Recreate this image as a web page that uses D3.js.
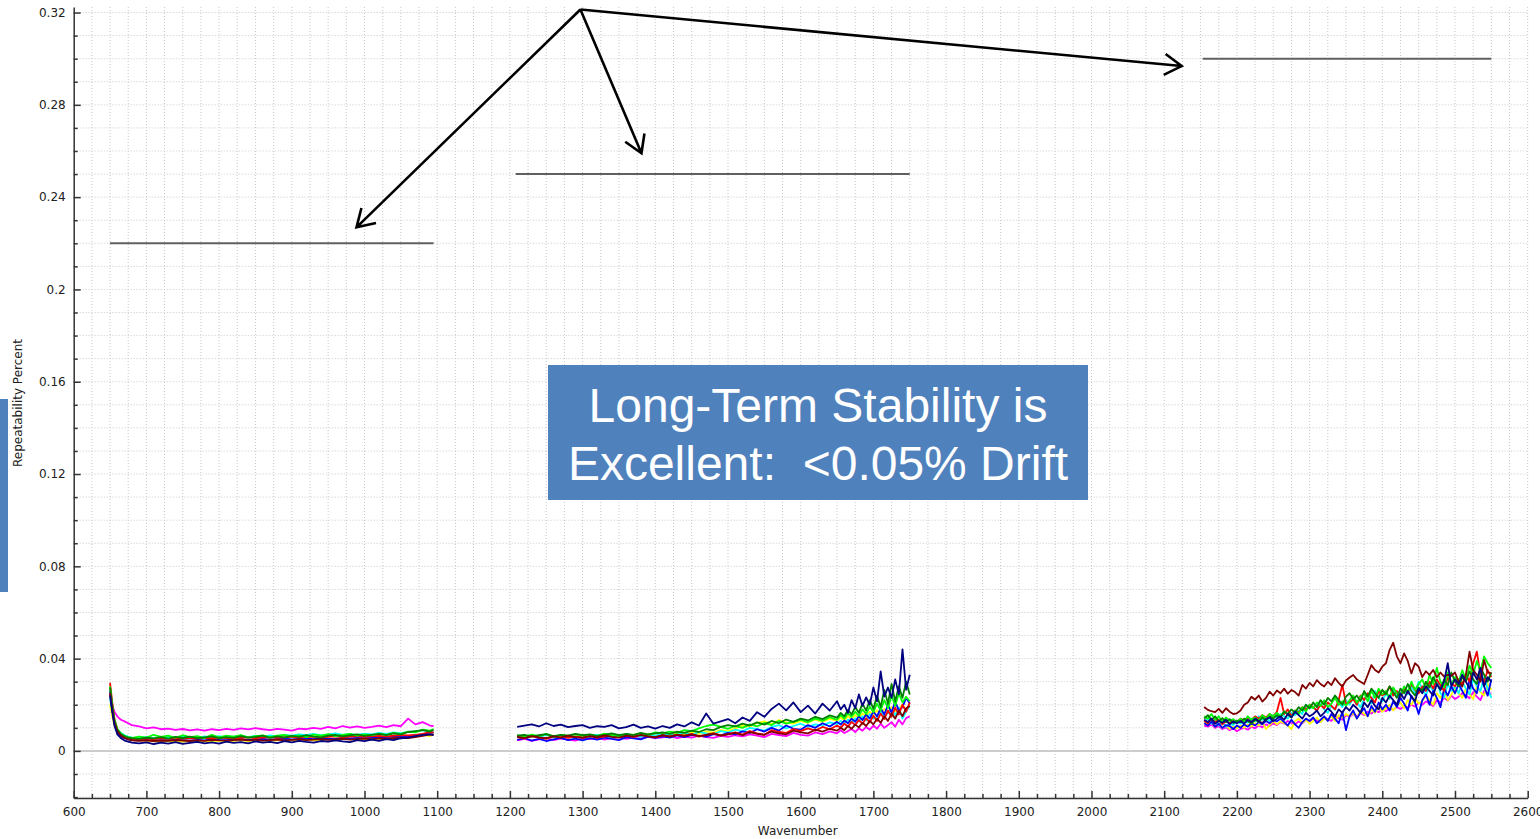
<!DOCTYPE html>
<html lang="en">
<head>
<meta charset="UTF-8">
<title>Repeatability Percent</title>
<script src="https://d3js.org/d3.v7.min.js"></script>
<style>
  body { margin: 0; background: #fff; }
  .axis path, .axis line { stroke: #333; stroke-width: 1.5; }
  .axis text { font-family: "DejaVu Sans", sans-serif; font-size: 12px; fill: #222; }
  .grid line { stroke: #c8c8c8; stroke-dasharray: 1,2; }
  .trace { fill: none; stroke-width: 1.8; stroke-linejoin: round; }
  .title { font-family: "DejaVu Sans", sans-serif; font-size: 12px; fill: #222; }
</style>
</head>
<body>
<script>
// tick labels
var xTicks = [600,700,800,900,1000,1100,1200,1300,1400,1500,1600,1700,1800,1900,2000,2100,2200,2300,2400,2500,2600];
var yTicks = [0,0.04,0.08,0.12,0.16,0.2,0.24,0.28,0.32];
var yTickLabels = ["0","0.04","0.08","0.12","0.16","0.2","0.24","0.28","0.32"];

// series colours, in drawing order
var seriesColors = ["#ff00ff","#ffff00","#00ffff","#0000ff","#ff0000","#00ff00","#008000","#800000","#000080"];

// values are in units of 1e-4 (repeatability percent)
// region 1: 650 - 1095
var region1X = [650,653,656,660,665,670,675,680,690,700,710,720,730,740,750,760,770,780,790,800,810,820,830,840,850,860,870,880,890,900,910,920,930,940,950,960,970,980,990,1000,1010,1020,1030,1040,1050,1060,1070,1080,1090,1095];
var region1Magenta = [245,200,170,150,135,128,120,112,106,98,102,94,97,91,95,89,93,88,94,90,96,91,98,93,99,94,90,96,92,88,97,94,100,96,104,98,108,101,106,100,104,110,103,112,107,140,115,125,110,108];
var region1Yellow = [200,150,110,85,70,60,55,50,46,44,42,40,43,41,40,42,44,41,43,45,42,44,46,43,45,47,44,46,48,45,47,49,46,48,50,48,52,50,53,51,55,52,54,57,56,58,62,70,64,72];
var region1Cyan = [230,175,130,95,78,68,62,58,55,60,57,54,61,56,62,58,55,63,59,64,58,62,66,60,65,61,67,63,70,66,72,68,74,67,71,76,70,73,69,75,72,78,74,80,77,83,85,90,86,88];
var region1Blue = [260,180,120,80,62,55,50,47,46,48,45,47,46,49,47,45,48,46,50,48,47,49,51,48,50,52,49,51,53,50,52,54,51,55,53,52,56,54,57,55,58,56,60,62,61,64,68,72,80,78];
var region1Red = [295,210,140,95,72,62,56,52,50,53,51,54,52,55,53,56,54,57,55,58,56,54,57,59,56,58,60,57,59,61,58,60,62,59,61,63,60,62,64,61,63,65,62,66,68,67,70,74,82,80];
var region1Lime = [280,200,135,95,75,65,60,57,62,58,70,61,66,57,68,60,64,56,70,59,66,62,69,58,64,67,60,66,70,62,67,60,71,66,73,64,69,74,66,72,68,75,70,78,74,84,80,92,88,95];
var region1Green = [275,195,130,90,72,63,58,55,52,58,54,60,53,61,56,62,55,59,63,55,60,57,64,58,61,66,57,63,59,65,61,68,62,59,66,70,63,68,72,65,70,74,68,76,72,82,86,90,84,92];
var region1Maroon = [250,180,120,85,66,56,50,46,44,46,43,45,44,47,45,43,46,44,48,46,45,47,49,46,48,45,47,49,46,48,50,47,49,51,48,50,52,49,51,53,50,54,52,55,57,56,60,65,72,70];
var region1Navy = [240,170,110,72,55,45,40,36,33,37,30,36,32,38,31,35,39,33,37,32,40,35,38,33,41,36,39,34,42,37,44,39,36,43,40,46,41,38,47,42,49,44,51,47,55,58,64,70,72,68];

// region 2: 1210 - 1750
var region2X = [1210,1220,1230,1240,1250,1260,1270,1280,1290,1300,1310,1320,1330,1340,1350,1360,1370,1380,1390,1400,1410,1420,1430,1440,1450,1460,1470,1480,1490,1500,1510,1520,1530,1540,1550,1560,1570,1580,1590,1600,1610,1620,1630,1640,1650,1655,1660,1665,1670,1675,1680,1685,1690,1695,1700,1705,1710,1715,1720,1725,1730,1735,1740,1745,1750];
var region2Magenta = [46,52,44,50,55,47,53,49,45,54,51,57,49,55,60,52,58,54,61,56,59,64,55,62,58,66,60,57,65,61,68,63,72,66,60,74,69,64,78,70,66,80,73,85,76,90,78,86,95,82,98,88,104,92,110,96,118,100,112,125,105,135,115,142,150];
var region2Yellow = [62,56,65,59,54,63,67,58,61,66,60,68,63,57,66,71,62,69,74,65,72,66,76,70,80,74,84,79,90,86,98,110,104,122,128,116,134,124,118,130,122,136,126,140,130,145,132,150,138,156,142,162,150,170,155,176,160,182,168,190,172,185,200,178,195];
var region2Cyan = [64,58,66,61,70,62,57,65,60,68,63,70,64,59,67,72,65,61,70,66,74,68,71,78,70,82,76,73,86,80,92,85,100,94,88,104,112,98,108,118,104,115,110,124,116,130,118,136,124,142,128,150,132,160,140,148,170,150,164,178,155,188,140,170,195];
var region2Blue = [48,56,45,52,43,50,57,47,53,46,55,49,58,52,47,60,54,50,62,57,63,58,67,60,70,65,62,73,68,78,72,85,78,94,84,100,88,110,96,92,112,100,120,106,126,114,132,120,140,126,150,134,158,140,170,150,185,158,200,165,215,175,190,230,205];
var region2Red = [60,55,64,58,53,62,66,57,63,59,65,58,62,68,60,66,61,70,64,59,68,63,71,66,74,62,70,77,67,73,80,71,86,76,70,90,82,78,95,86,98,88,104,94,110,100,118,106,126,112,134,118,142,124,152,130,162,138,175,148,188,158,200,170,210];
var region2Lime = [68,62,71,64,74,60,69,65,72,66,70,64,75,68,62,73,67,76,70,80,76,84,78,90,86,98,108,114,104,96,108,100,115,106,122,112,130,118,126,136,124,140,130,146,135,155,140,162,148,170,152,180,160,192,168,205,175,220,185,240,195,250,210,235,215];
var region2Green = [66,70,62,68,73,64,70,66,74,68,72,65,70,76,68,74,70,78,72,76,80,74,84,78,88,82,94,90,104,112,106,118,110,124,114,130,120,136,126,140,132,148,138,154,144,165,150,178,158,190,165,205,175,220,182,240,190,265,205,290,215,280,230,300,245];
var region2Maroon = [61,56,64,59,55,63,58,66,60,57,64,59,67,61,58,66,62,69,63,60,68,62,70,65,72,64,69,75,66,72,78,68,82,74,70,84,76,72,88,80,76,92,84,96,88,100,90,108,96,114,102,122,108,130,115,140,122,150,130,162,140,175,150,185,195];
var region2Navy = [104,110,115,106,120,108,114,103,108,112,100,107,104,112,98,103,114,100,106,97,108,100,115,106,124,110,162,118,128,138,120,145,130,168,148,182,205,176,210,168,196,162,205,175,215,180,200,165,220,185,245,195,232,200,275,215,345,235,275,230,310,245,440,265,330];

// region 3: 2155 - 2550
var region3X = [2155,2160,2165,2170,2175,2180,2185,2190,2195,2200,2205,2210,2215,2220,2225,2230,2235,2240,2245,2250,2255,2260,2265,2270,2275,2280,2285,2290,2295,2300,2305,2310,2315,2320,2325,2330,2335,2340,2345,2350,2355,2360,2365,2370,2375,2380,2385,2390,2395,2400,2405,2410,2415,2420,2425,2430,2435,2440,2445,2450,2455,2460,2465,2470,2475,2480,2485,2490,2495,2500,2505,2510,2515,2520,2525,2530,2535,2540,2545,2550];
var region3Magenta = [110,105,115,100,108,95,102,90,98,85,95,100,92,105,98,110,102,115,108,120,112,125,118,130,122,115,128,120,135,128,140,132,125,145,138,130,150,142,135,155,148,160,150,165,155,170,162,175,168,180,172,185,178,190,182,195,188,200,192,210,200,215,205,195,220,210,230,218,240,225,235,250,240,228,255,235,220,260,245,250];
var region3Yellow = [120,112,125,105,118,100,112,95,105,98,110,100,115,105,120,110,125,95,112,130,115,128,120,110,95,130,140,122,135,118,130,145,125,140,135,150,130,155,145,160,150,165,140,175,160,150,180,165,190,170,185,200,175,195,210,185,220,200,230,205,215,240,220,200,250,230,260,220,245,270,250,230,270,245,225,280,255,240,290,265];
var region3Cyan = [125,140,118,132,110,125,105,120,112,128,118,130,122,140,128,150,135,142,130,155,145,160,150,140,165,155,175,160,200,185,190,175,205,180,165,195,178,210,190,220,200,230,210,190,225,240,205,260,230,215,250,225,270,240,230,260,245,280,250,300,270,240,285,260,310,250,230,290,260,280,250,300,270,245,310,280,260,320,270,230];
var region3Blue = [120,110,128,105,118,100,112,108,95,110,100,115,105,120,110,125,115,130,120,135,128,140,125,110,135,115,100,125,140,130,145,120,135,150,130,160,140,120,170,90,150,175,140,165,185,150,195,170,210,180,200,175,215,190,230,205,175,240,210,160,220,245,200,260,230,190,270,240,280,250,290,260,230,310,270,250,330,280,240,310];
var region3Red = [130,120,140,125,135,115,128,120,135,125,140,130,145,135,150,140,155,145,160,150,170,230,160,180,150,175,165,190,180,200,190,175,200,185,210,195,180,220,286,205,210,225,200,240,220,250,230,210,260,240,250,280,240,260,235,270,250,290,265,250,280,260,300,270,310,285,260,320,295,280,310,290,330,300,380,430,330,300,350,320];
var region3Lime = [150,140,160,135,150,125,145,130,138,125,140,128,150,135,145,130,155,140,160,150,165,150,172,158,145,175,160,190,170,200,185,210,195,220,190,205,230,200,215,195,220,240,210,235,250,215,260,230,270,245,260,230,275,250,240,280,255,300,265,290,310,270,330,290,360,300,275,340,290,320,300,350,310,370,330,390,345,410,380,360];
var region3Green = [140,155,135,150,128,142,125,138,120,132,125,140,130,118,135,125,145,132,150,140,155,145,170,160,180,165,190,175,200,185,210,190,220,200,230,215,240,220,200,235,250,225,240,215,260,235,270,250,230,265,245,280,255,230,270,250,290,260,240,275,260,300,275,320,290,265,310,285,340,300,280,320,300,345,310,290,360,330,300,340];
var region3Maroon = [190,178,172,168,182,165,185,170,160,163,175,200,210,235,222,240,214,230,257,240,262,250,270,248,264,255,240,286,270,295,280,307,290,279,300,285,315,295,279,305,318,329,310,300,290,330,372,351,340,365,380,437,469,410,380,423,390,336,380,365,320,345,330,351,320,340,322,330,325,340,300,279,330,430,350,330,300,394,340,336];
var region3Navy = [135,125,140,118,130,122,135,115,128,120,130,118,135,125,140,130,120,138,145,128,140,150,135,160,145,170,155,140,165,150,160,175,150,165,185,170,150,180,165,190,175,200,185,165,210,190,220,195,180,230,210,240,220,200,250,225,260,235,215,270,250,280,260,240,290,265,300,380,280,310,290,330,300,270,340,310,360,280,320,300];

// spec lines per region
var specStart = [650,1208,2153];
var specEnd = [1095,1750,2550];
var specLevel = [0.22,0.25,0.30];

// annotation arrows (data coordinates)
var arrowFrom = [1297, 0.3213];
var arrowToX = [989,1381,2124];
var arrowToY = [0.2269,0.2590,0.2968];

var regions = [
  { x: region1X, ys: [region1Magenta,region1Yellow,region1Cyan,region1Blue,region1Red,region1Lime,region1Green,region1Maroon,region1Navy] },
  { x: region2X, ys: [region2Magenta,region2Yellow,region2Cyan,region2Blue,region2Red,region2Lime,region2Green,region2Maroon,region2Navy] },
  { x: region3X, ys: [region3Magenta,region3Yellow,region3Cyan,region3Blue,region3Red,region3Lime,region3Green,region3Maroon,region3Navy] }
];

var W = 1540, H = 839;
var margin = {top: 7, right: 12.3, bottom: 41, left: 73.7},
    width = W - margin.left - margin.right,
    height = H - margin.top - margin.bottom;

var xScale = d3.scaleLinear().domain([600, 2600]).range([0, width]);
var yScale = d3.scaleLinear().domain([-0.0204, 0.3224]).range([height, 0]);

var root = d3.select("body").append("svg")
    .attr("width", W)
    .attr("height", H);

// blue slide marker on the left edge
root.append("rect")
    .attr("x", 0).attr("y", 399)
    .attr("width", 8).attr("height", 193)
    .attr("fill", "#4f81bd");

var svg = root.append("g")
    .attr("transform", "translate(" + margin.left + "," + margin.top + ")");

var minorX = d3.range(625, 2601, 25);
var minorY = d3.range(-2, 33).map(function(k) { return k / 100; });

// dotted grid
var grid = svg.append("g").attr("class", "grid");
grid.selectAll(".gx").data(minorX).enter().append("line")
    .attr("x1", function(d) { return xScale(d); })
    .attr("x2", function(d) { return xScale(d); })
    .attr("y1", 0).attr("y2", height);
grid.selectAll(".gy").data(minorY).enter().append("line")
    .attr("x1", 0).attr("x2", width)
    .attr("y1", function(d) { return yScale(d); })
    .attr("y2", function(d) { return yScale(d); });

// zero line
svg.append("line")
    .attr("x1", 0).attr("x2", width)
    .attr("y1", yScale(0)).attr("y2", yScale(0))
    .attr("stroke", "#cccccc").attr("stroke-width", 2);

// traces
var line = d3.line()
    .x(function(d) { return xScale(d[0]); })
    .y(function(d) { return yScale(d[1] / 10000); });

regions.forEach(function(r) {
  r.ys.forEach(function(vals, i) {
    svg.append("path")
        .datum(vals.map(function(v, j) { return [r.x[j], v]; }))
        .attr("class", "trace")
        .attr("stroke", seriesColors[i])
        .attr("d", line);
  });
});

// spec lines
svg.selectAll(".spec").data(specLevel).enter().append("line")
    .attr("class", "spec")
    .attr("x1", function(d, i) { return xScale(specStart[i]); })
    .attr("x2", function(d, i) { return xScale(specEnd[i]); })
    .attr("y1", function(d) { return yScale(d); })
    .attr("y2", function(d) { return yScale(d); })
    .attr("stroke", "#606060").attr("stroke-width", 2);

// axes
svg.append("g").attr("class", "axis")
    .attr("transform", "translate(0," + height + ")")
    .call(d3.axisBottom(xScale).tickValues(xTicks).tickSizeInner(-7).tickSizeOuter(0).tickPadding(9).tickFormat(d3.format("d")));
svg.append("g").attr("class", "axis")
    .attr("transform", "translate(0," + height + ")")
    .call(d3.axisBottom(xScale).tickValues(minorX.filter(function(d) { return d % 100; })).tickSizeInner(-4).tickSizeOuter(0).tickFormat(""))
    .select(".domain").remove();

svg.append("g").attr("class", "axis")
    .call(d3.axisLeft(yScale).tickValues(yTicks).tickSizeInner(-7).tickSizeOuter(0).tickPadding(8)
      .tickFormat(function(d, i) { return yTickLabels[i]; }));
svg.append("g").attr("class", "axis")
    .call(d3.axisLeft(yScale).tickValues(minorY.filter(function(d) { return Math.round(d * 100) % 4 !== 0; })).tickSizeInner(-4).tickSizeOuter(0).tickFormat(""))
    .select(".domain").remove();

// axis titles
svg.append("text").attr("class", "title")
    .attr("x", width / 2 - 3).attr("y", height + 37)
    .attr("text-anchor", "middle")
    .text("Wavenumber");
root.append("text").attr("class", "title")
    .attr("transform", "translate(22,403) rotate(-90)")
    .attr("text-anchor", "middle")
    .text("Repeatability Percent");

// arrows
var ax0 = xScale(arrowFrom[0]), ay0 = yScale(arrowFrom[1]);
arrowToX.forEach(function(tx, i) {
  var x1 = xScale(tx), y1 = yScale(arrowToY[i]);
  var ang = Math.atan2(ay0 - y1, ax0 - x1);
  var len = 20, spread = 0.55;
  var path = d3.path();
  path.moveTo(ax0, ay0); path.lineTo(x1, y1);
  path.moveTo(x1 + len * Math.cos(ang + spread), y1 + len * Math.sin(ang + spread));
  path.lineTo(x1, y1);
  path.lineTo(x1 + len * Math.cos(ang - spread), y1 + len * Math.sin(ang - spread));
  svg.append("path")
      .attr("d", path.toString())
      .attr("fill", "none")
      .attr("stroke", "#000")
      .attr("stroke-width", 2.6)
      .attr("stroke-linejoin", "miter");
});

// callout box
root.append("rect")
    .attr("x", 548).attr("y", 365)
    .attr("width", 540).attr("height", 135)
    .attr("fill", "#4f81bd");
var callout = root.append("text")
    .attr("text-anchor", "middle")
    .attr("font-family", "'Liberation Sans', Arial, sans-serif")
    .attr("font-size", 48)
    .attr("fill", "#fff")
    .style("white-space", "pre");
callout.append("tspan").attr("x", 818).attr("y", 422).text("Long-Term Stability is");
callout.append("tspan").attr("x", 818).attr("y", 480).text("Excellent:  <0.05% Drift");
</script>
</body>
</html>
